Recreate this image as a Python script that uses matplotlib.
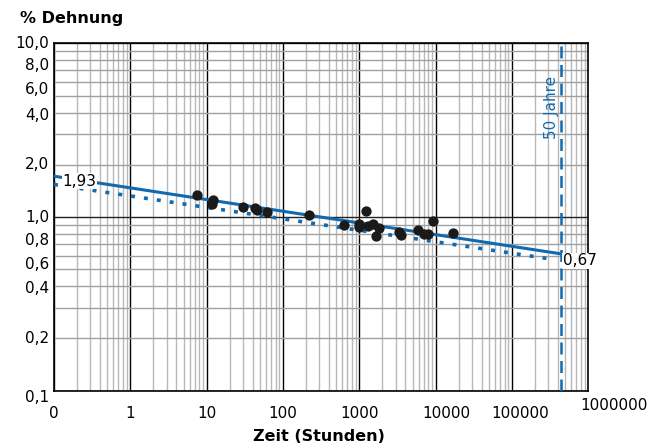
import matplotlib.pyplot as plt
import matplotlib.transforms as mtransforms
from matplotlib.ticker import FixedLocator, NullFormatter

# measured points (hours, % strain)
zeit = [7.4, 12.2, 11.7, 30.3, 43.1, 46.2, 61.4, 222, 638, 994, 994, 1239,
        1292, 1530, 1834, 1660, 3325, 3532, 5845, 7130, 7900, 9355, 17100]
dehnung = [1.334, 1.248, 1.184, 1.142, 1.127, 1.093, 1.069, 1.032, 0.896,
           0.916, 0.876, 1.079, 0.884, 0.916, 0.869, 0.774, 0.820, 0.784,
           0.838, 0.802, 0.802, 0.944, 0.813]

# regression line and lower bound
fit_x = [0.1, 438000]
fit_y = [1.72, 0.614]
low_x = [0.1, 350000]
low_y = [1.54, 0.57]

jahre50 = 438000  # 50 years in hours

x_ticks = [0.1, 1, 10, 100, 1000, 10000, 100000]
x_labels = ['0', '1', '10', '100', '1000', '10000', '100000']
y_labels = ['0,1', '0,2', '0,4', '0,6', '0,8', '1,0', '2,0', '4,0', '6,0', '8,0', '10,0']
# the original labels do not sit exactly on their grid lines
y_label_pos = [0.091, 0.2, 0.388, 0.534, 0.734, 1.0, 2.01, 3.86, 5.44, 7.49, 10]

blue = '#116ab0'

fig = plt.figure(figsize=(6.5, 4.48), dpi=100)
ax = fig.add_axes([0.083, 0.128, 0.822, 0.775])
ax.set_xscale('log')
ax.set_yscale('log')
ax.set_xlim(0.1, 1000000)
ax.set_ylim(0.1, 10)

# grid
ax.xaxis.set_major_locator(FixedLocator([0.1, 1, 10, 100, 1000, 10000, 100000, 1000000]))
ax.xaxis.set_minor_locator(FixedLocator([m * 10.0 ** e for e in range(-1, 6) for m in range(2, 10)]))
ax.yaxis.set_major_locator(FixedLocator([0.1, 1, 10]))
ax.yaxis.set_minor_locator(FixedLocator([m * 10.0 ** e for e in range(-1, 1) for m in range(2, 10)]))
ax.xaxis.set_minor_formatter(NullFormatter())
ax.yaxis.set_minor_formatter(NullFormatter())
ax.yaxis.set_major_formatter(NullFormatter())
ax.grid(which='major', axis='x', color='black', lw=1.0)
ax.grid(which='minor', axis='x', color='#b8b8b8', lw=1.0)
ax.grid(which='major', axis='y', color='#222222', lw=1.0)
ax.grid(which='minor', axis='y', color='#a0a0a0', lw=1.0)
ax.set_axisbelow(True)
ax.tick_params(which='both', length=0)

ax.set_xticks(x_ticks)
ax.set_xticklabels(x_labels, fontsize=11)
ax.tick_params(axis='x', which='major', pad=11)
shifts = {'10000': 11, '100000': 8}
for lab in ax.get_xticklabels():
    dx = shifts.get(lab.get_text(), 0)
    if dx:
        lab.set_transform(lab.get_transform() + mtransforms.ScaledTranslation(dx / 100, 0, fig.dpi_scale_trans))
ax.text(1.048, -0.042, '1000000', transform=ax.transAxes, fontsize=11,
        ha='center', va='center')

ytrans = mtransforms.blended_transform_factory(ax.transAxes, ax.transData)
for pos, lab in zip(y_label_pos, y_labels):
    ax.text(-0.009, pos, lab, transform=ytrans, fontsize=11, ha='right', va='center',
            clip_on=False)

for s in ax.spines.values():
    s.set_color('black')
    s.set_linewidth(1.2)

# lines
ax.plot(low_x, low_y, color=blue, lw=2.6, linestyle=(0, (1.1, 2.5)), zorder=3)
ax.plot(fit_x, fit_y, color=blue, lw=2.2, zorder=4)
ax.axvline(jahre50, color=blue, lw=1.8, linestyle=(0, (4.8, 2.6)), zorder=4)
ax.scatter(zeit, dehnung, s=55, color='#1a1a1a', zorder=5, linewidths=0)

# labels
ax.text(0.13, 1.61, '1,93', fontsize=11, ha='left', va='center', zorder=6,
        bbox=dict(facecolor='white', edgecolor='none', pad=0.5))
ax.text(460000, 0.56, '0,67', fontsize=11, ha='left', va='center', zorder=6,
        bbox=dict(facecolor='white', edgecolor='none', pad=0.5))
ax.text(330000, 4.3, '50 Jahre', color=blue, fontsize=11, rotation=90,
        ha='center', va='center', zorder=6)

fig.text(0.031, 0.958, '% Dehnung', fontsize=11.5, fontweight='bold', ha='left', va='center')
fig.text(0.49, 0.025, 'Zeit (Stunden)', fontsize=11.5, fontweight='bold', ha='center', va='center')

fig.savefig('out.png', dpi=100)
